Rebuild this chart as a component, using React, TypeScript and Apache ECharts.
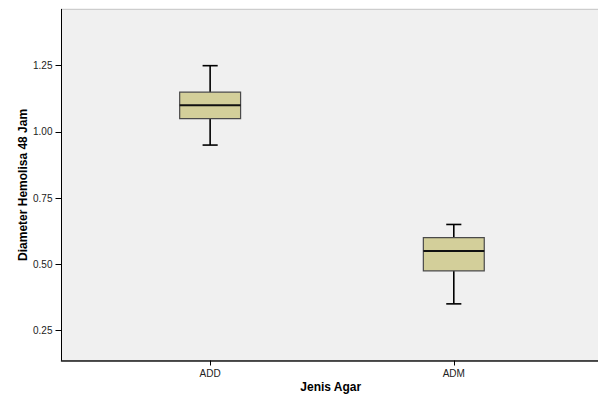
import React, { useEffect, useRef } from "react";
import * as echarts from "echarts";

const categories = ["ADD", "ADM"];
const whiskerLow = [0.95, 0.35];
const q1 = [1.05, 0.475];
const median = [1.1, 0.55];
const q3 = [1.15, 0.6];
const whiskerHigh = [1.25, 0.65];
const yTicks = [0.25, 0.5, 0.75, 1.0, 1.25];

export default function App() {
  const ref = useRef<HTMLDivElement>(null);
  useEffect(() => {
    if (!ref.current) return;
    const chart = echarts.init(ref.current, null, { renderer: "svg" });
    const data = categories.map((_, i) => [
      i + 1,
      whiskerLow[i],
      q1[i],
      median[i],
      q3[i],
      whiskerHigh[i],
    ]);
    const font = "Liberation Sans, Arial, sans-serif";
    chart.setOption({
      animation: false,
      backgroundColor: "#ffffff",
      grid: {
        left: 61.5,
        top: 9.3,
        right: -2,
        bottom: 33.5,
        outerBoundsMode: "none",
        containLabel: false,
        show: true,
        backgroundColor: "#f0f0f0",
        borderColor: "#c4c4c4",
        borderWidth: 1,
      },
      xAxis: {
        type: "value",
        min: 0.39,
        max: 2.6,
        name: "Jenis Agar",
        nameLocation: "middle",
        nameGap: 20,
        nameMoveOverlap: false,
        nameTextStyle: { fontFamily: font, fontSize: 12, fontWeight: "bold", color: "#000" },
        splitLine: { show: false },
        axisLine: { show: true, onZero: false, lineStyle: { color: "#1a1a1a", width: 1.5 } },
        axisTick: { show: true, length: 5, customValues: [1, 2], lineStyle: { color: "#000" } },
        axisLabel: {
          customValues: [1, 2],
          margin: 8,
          fontFamily: font,
          fontSize: 10,
          color: "#222",
          formatter: (v: number) => categories[Math.round(v) - 1] ?? "",
        },
      },
      yAxis: {
        type: "value",
        min: 0.136,
        max: 1.463,
        name: "Diameter Hemolisa 48 Jam",
        nameLocation: "middle",
        nameGap: 33,
        nameMoveOverlap: false,
        nameTextStyle: { fontFamily: font, fontSize: 12, fontWeight: "bold", color: "#000" },
        splitLine: { show: false },
        axisLine: { show: true, onZero: false, lineStyle: { color: "#000", width: 1 } },
        axisTick: { show: true, length: 6, customValues: yTicks, lineStyle: { color: "#000" } },
        axisLabel: {
          customValues: yTicks,
          margin: 9,
          fontFamily: font,
          fontSize: 10,
          color: "#222",
          formatter: (v: number) => v.toFixed(2),
        },
      },
      series: [
        {
          type: "custom",
          data,
          encode: { x: 0, y: [1, 2, 3, 4, 5] },
          renderItem: (params: any, api: any) => {
            const x = api.value(0);
            const pLo = api.coord([x, api.value(1)]);
            const pQ1 = api.coord([x, api.value(2)]);
            const pMed = api.coord([x, api.value(3)]);
            const pQ3 = api.coord([x, api.value(4)]);
            const pHi = api.coord([x, api.value(5)]);
            const halfW = api.size([0.25, 0])[0] / 2;
            const capHalf = api.size([0.062, 0])[0] / 2;
            const cx = pMed[0];
            const whisk = { stroke: "#000", lineWidth: 1.6 };
            return {
              type: "group",
              children: [
                { type: "line", shape: { x1: cx, y1: pQ3[1], x2: cx, y2: pHi[1] }, style: whisk },
                { type: "line", shape: { x1: cx, y1: pQ1[1], x2: cx, y2: pLo[1] }, style: whisk },
                { type: "line", shape: { x1: cx - capHalf, y1: pHi[1], x2: cx + capHalf, y2: pHi[1] }, style: whisk },
                { type: "line", shape: { x1: cx - capHalf, y1: pLo[1], x2: cx + capHalf, y2: pLo[1] }, style: whisk },
                {
                  type: "rect",
                  shape: { x: cx - halfW, y: pQ3[1], width: halfW * 2, height: pQ1[1] - pQ3[1] },
                  style: { fill: "#d3cf9a", stroke: "#4a4a4a", lineWidth: 1.2 },
                },
                { type: "line", shape: { x1: cx - halfW, y1: pMed[1], x2: cx + halfW, y2: pMed[1] }, style: { stroke: "#111", lineWidth: 2 } },
              ],
            };
          },
        },
      ],
    });
    return () => chart.dispose();
  }, []);
  return (
    <div
      ref={ref}
      style={{ position: "fixed", left: 0, top: 0, width: 598, height: 394 }}
    />
  );
}
